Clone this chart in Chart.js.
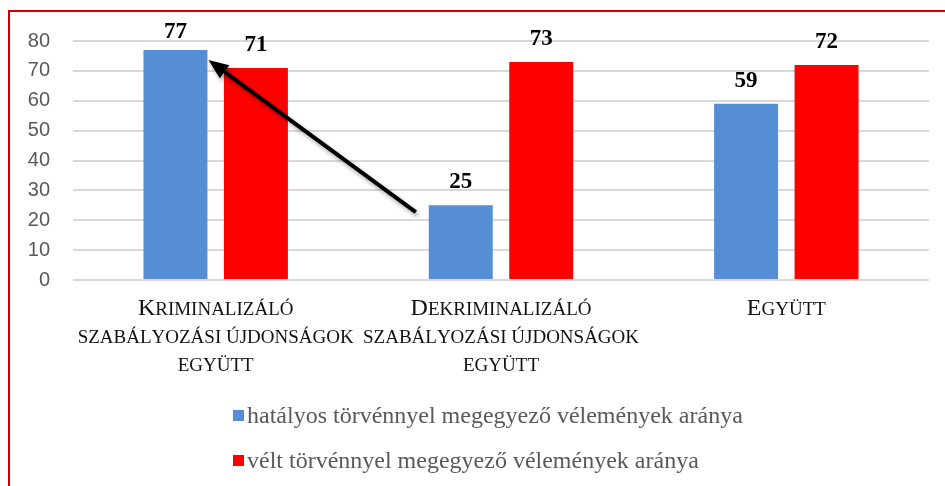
<!DOCTYPE html>
<html>
<head>
<meta charset="utf-8">
<script src="https://cdn.jsdelivr.net/npm/chart.js@4/dist/chart.umd.min.js"></script>
<style>
    html, body { margin: 0; padding: 0; background: #fff; overflow: hidden; }
    #frame {
        position: absolute; left: 8px; top: 10px;
        width: 935px; height: 474px;
        border-left: 2px solid #d00000; border-top: 2px solid #d00000;
    }
    #frame canvas { position: absolute; left: 0; top: -6px; }
    #legend {
        position: absolute; left: 223px; top: 381px;
        font-family: "Liberation Serif", "Times New Roman", serif;
        font-size: 24px; color: #595959;
    }
    .item { height: 45px; line-height: 45px; white-space: nowrap; }
    .box { display: inline-block; width: 11px; height: 11px; margin-right: 3px; vertical-align: middle; position: relative; top: -2px; }
</style>
</head>
<body>
<div id="frame">
    <canvas id="barChart" width="935" height="480"></canvas>
    <div id="legend"></div>
</div>
<script>
// data
const categories = [
    ['Kriminalizáló', 'szabályozási újdonságok', 'együtt'],
    ['Dekriminalizáló', 'szabályozási újdonságok', 'együtt'],
    ['Együtt']
];
const seriesNames = [
    'hatályos törvénnyel megegyező vélemények aránya',
    'vélt törvénnyel megegyező vélemények aránya'
];
const hatalyos = [77, 25, 59];
const velt = [71, 73, 72];
const seriesColors = ['#558ed5', '#ff0000'];
const yMin = 0, yMax = 80, yStep = 10;

// arrow: from left of the 2nd blue bar (at value 23) to the top right of the 1st blue bar
const arrowFrom = { dataset: 0, index: 1, value: 22.7 };
const arrowTo = { dataset: 0, index: 0 };

// category labels in small caps
function drawSmallCaps(ctx, text, cx, y, big, small) {
    const parts = [...text].map(ch => ({
        t: ch.toUpperCase(),
        size: ch !== ch.toLowerCase() && ch === ch.toUpperCase() ? big : small
    }));
    let total = 0;
    parts.forEach(p => {
        ctx.font = p.size + 'px "Liberation Serif", "Times New Roman", serif';
        p.w = ctx.measureText(p.t).width;
        total += p.w;
    });
    let x = cx - total / 2;
    parts.forEach(p => {
        ctx.font = p.size + 'px "Liberation Serif", "Times New Roman", serif';
        ctx.fillText(p.t, x, y);
        x += p.w;
    });
}

const labelPlugin = {
    id: 'labels',
    afterDatasetsDraw(chart) {
        const ctx = chart.ctx;
        ctx.save();
        ctx.fillStyle = '#000';
        ctx.textAlign = 'center';
        ctx.textBaseline = 'alphabetic';
        ctx.font = 'bold 23px "Liberation Serif", "Times New Roman", serif';
        chart.data.datasets.forEach((ds, i) => {
            chart.getDatasetMeta(i).data.forEach((bar, j) => {
                // labels near the top get pushed down like in the original
                const y = Math.max(bar.y - 17, chart.chartArea.top - 3);
                ctx.fillText(ds.data[j], bar.x, y);
            });
        });

        // x category labels
        const xs = chart.scales.x;
        ctx.textAlign = 'left';
        ctx.fillStyle = '#111';
        categories.forEach((lines, i) => {
            const cx = xs.getPixelForTick(i);
            lines.forEach((line, k) => {
                drawSmallCaps(ctx, line, cx, xs.top + 35 + k * 28, 24, 19);
            });
        });
        ctx.restore();
    },
    afterDraw(chart) {
        const ctx = chart.ctx;
        const from = chart.getDatasetMeta(arrowFrom.dataset).data[arrowFrom.index];
        const to = chart.getDatasetMeta(arrowTo.dataset).data[arrowTo.index];
        const x1 = from.x - from.width / 2 - 13;
        const y1 = chart.scales.y.getPixelForValue(arrowFrom.value);
        const x2 = to.x + to.width / 2 + 1;
        const y2 = to.y + 10;
        const ang = Math.atan2(y2 - y1, x2 - x1);
        const head = 20, half = 8;
        const bx = x2 - head * Math.cos(ang), by = y2 - head * Math.sin(ang);
        ctx.save();
        ctx.shadowColor = 'rgba(0,0,0,0.35)';
        ctx.shadowBlur = 4;
        ctx.shadowOffsetX = 2;
        ctx.shadowOffsetY = 3;
        ctx.strokeStyle = '#000';
        ctx.fillStyle = '#000';
        ctx.lineWidth = 4;
        ctx.beginPath();
        ctx.moveTo(x1, y1);
        ctx.lineTo(bx, by);
        ctx.stroke();
        ctx.beginPath();
        ctx.moveTo(x2, y2);
        ctx.lineTo(bx + half * Math.sin(ang), by - half * Math.cos(ang));
        ctx.lineTo(bx - half * Math.sin(ang), by + half * Math.cos(ang));
        ctx.closePath();
        ctx.fill();
        ctx.restore();
    }
};

const ctx = document.getElementById('barChart').getContext('2d');
const barChart = new Chart(ctx, {
    type: 'bar',
    data: {
        labels: categories,
        datasets: [
            {
                label: seriesNames[0],
                data: hatalyos,
                backgroundColor: seriesColors[0],
                categoryPercentage: 0.564,
                barPercentage: 0.795
            },
            {
                label: seriesNames[1],
                data: velt,
                backgroundColor: seriesColors[1],
                categoryPercentage: 0.564,
                barPercentage: 0.795
            }
        ]
    },
    options: {
        responsive: false,
        animation: false,
        layout: { padding: { left: 0, right: 16, top: 16, bottom: 0 } },
        scales: {
            x: {
                grid: { display: false },
                border: { display: false },
                ticks: { display: false },
                afterFit: s => { s.height = 206; }
            },
            y: {
                min: yMin,
                max: yMax,
                ticks: {
                    stepSize: yStep,
                    padding: 23,
                    color: '#595959',
                    font: { family: '"Liberation Sans", Arial, sans-serif', size: 20 }
                },
                grid: { color: '#d9d9d9', lineWidth: 2, drawTicks: false },
                border: { display: false },
                afterFit: s => { s.width = 63; }
            }
        },
        plugins: {
            legend: { display: false },
            tooltip: { enabled: false }
        }
    },
    plugins: [labelPlugin]
});

// legend as html rows
const legendEl = document.getElementById('legend');
barChart.data.datasets.forEach(ds => {
    const row = document.createElement('div');
    row.className = 'item';
    row.innerHTML = `<span class="box" style="background:${ds.backgroundColor}"></span>${ds.label}`;
    legendEl.appendChild(row);
});
</script>
</body>
</html>
